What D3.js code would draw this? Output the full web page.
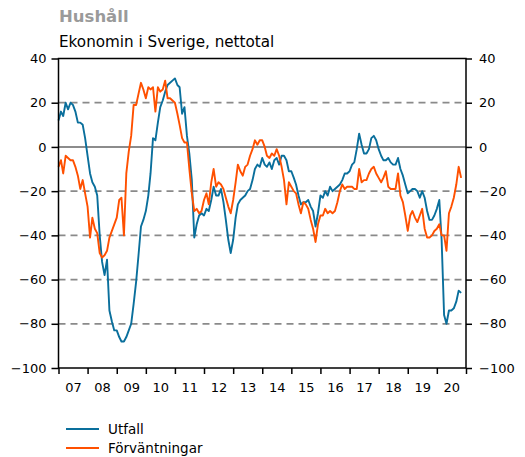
<!DOCTYPE html>
<html>
<head>
<meta charset="utf-8">
<script src="https://cdn.jsdelivr.net/npm/d3@7"></script>
<style>
    body { margin: 0; background: #fff; }
    text { font-family: "DejaVu Sans", Verdana, sans-serif; }
    .axis path { display: none; }
    .axis line { stroke: #000; stroke-width: 1.5; }
    .axis text { font-size: 13px; fill: #000; }
</style>
</head>
<body>
<div id="chart"></div>
<script>
    // monthly values, first value = Jan 2007
    let startYear = 2007

    let utfall = [
        12, 16, 14, 20, 17, 20, 19, 16, 11, 11, 10, 4,
        -4, -12, -16, -18, -22, -40, -52, -58, -51, -74, -79, -83,
        -83, -86, -88, -88, -86, -83, -80, -71, -61, -49, -36, -33,
        -29, -22, -12, 4, 3, 11, 18, 21, 25, 28, 29, 30,
        31, 28, 27, 15, 18, 5, -3, -15, -41, -35, -31, -30,
        -31, -28, -29, -24, -18, -22, -22, -19, -25, -33, -42, -48,
        -42, -32, -26, -24, -23, -22, -20, -19, -15, -10, -8, -9,
        -5, -8, -9, -7, -10, -6, -5, -8, -4, -4, -6, -11,
        -11, -14, -17, -22, -26, -25, -25, -24, -27, -29, -36, -30,
        -22, -23, -20, -22, -18, -20, -19, -18, -17, -15, -12, -12,
        -11, -8, -7, -1, 6, 1, -3, -3, -1, 4, 5, 3,
        -1, -4, -6, -6, -5, -7, -8, -8, -5, -10, -13, -17,
        -21, -20, -19, -19, -20, -23, -20, -23, -29, -33, -33, -31,
        -28, -24, -42, -76, -80, -74, -74, -73, -70, -65, -66
    ]

    let forvantningar = [
        -9, -6, -12, -4, -5, -6, -6, -9, -13, -19, -15, -21,
        -27, -41, -32, -37, -39, -48, -50, -49, -47, -41, -38, -35,
        -32, -24, -23, -40, -12, -2, 5, 19, 19, 24, 29, 26,
        22, 27, 26, 27, 16, 27, 25, 26, 30, 22, 22, 21,
        20, 15, 10, 4, 2, 2, -10, -21, -29, -28, -30, -29,
        -24, -21, -26, -16, -10, -18, -16, -17, -19, -23, -27, -30,
        -24, -16, -8, -11, -13, -9, -8, -4, -1, 3, 1, 3,
        3, 0, -4, -5, -3, -4, -1, -4, -9, -15, -26, -16,
        -18, -20, -21, -26, -30, -25, -26, -28, -33, -37, -43, -35,
        -31, -31, -28, -30, -29, -30, -29, -25, -20, -17, -19, -18,
        -18, -18, -19, -19, -10, -16, -15, -15, -12, -10, -9, -12,
        -14, -16, -14, -11, -18, -19, -19, -19, -12, -22, -25, -31,
        -38, -31, -29, -32, -34, -31, -28, -37, -41, -41, -40, -38,
        -37, -35, -40, -40, -47, -30, -27, -23, -17, -9, -14
    ]

    let yTicks = [-100, -80, -60, -40, -20, 0, 20, 40]
    let gridDashed = [-80, -60, -40, -20, 20]
    let yearLabels = ["07", "08", "09", "10", "11", "12", "13", "14", "15", "16", "17", "18", "19", "20"]

    let series = [
        { name: "Utfall", values: utfall, color: "#0a6f9c" },
        { name: "Förväntningar", values: forvantningar, color: "#ff5000" }
    ]

    let width = 525
    let height = 457
    let plotLeft = 58.5
    let plotRight = 466
    let plotTop = 58.5
    let plotBottom = 368

    let svg = d3.select("#chart")
        .append("svg")
        .attr("width", width)
        .attr("height", height)

    let x = d3.scaleTime()
        .domain([new Date(2007, 0, 1), new Date(2021, 0, 1)])
        .range([plotLeft, plotRight])

    let y = d3.scaleLinear()
        .domain([-100, 40])
        .range([plotBottom, plotTop])

    // titles
    svg.append("text")
        .attr("x", 59)
        .attr("y", 22)
        .style("font-size", "16.5px")
        .style("font-weight", "bold")
        .style("fill", "#9a9a9a")
        .text("Hushåll")

    svg.append("text")
        .attr("x", 59)
        .attr("y", 47)
        .style("font-size", "15.2px")
        .style("fill", "#000")
        .text("Ekonomin i Sverige, nettotal")

    // grid
    svg.append("g")
        .selectAll("line")
        .data(gridDashed)
        .enter()
        .append("line")
        .attr("x1", plotLeft)
        .attr("x2", plotRight)
        .attr("y1", d => y(d))
        .attr("y2", d => y(d))
        .style("stroke", "#8a8a8a")
        .style("stroke-width", 1.8)
        .style("stroke-dasharray", "7,5")

    svg.append("line")
        .attr("x1", plotLeft)
        .attr("x2", plotRight)
        .attr("y1", y(0))
        .attr("y2", y(0))
        .style("stroke", "#8c8c8c")
        .style("stroke-width", 2)

    // lines
    let line = d3.line()
        .x((d, i) => x(new Date(startYear, i, 1)))
        .y(d => y(d))

    svg.append("g")
        .selectAll("path")
        .data(series)
        .enter()
        .append("path")
        .attr("d", d => line(d.values))
        .style("fill", "none")
        .style("stroke", d => d.color)
        .style("stroke-width", 1.9)
        .style("stroke-linejoin", "round")

    // frame
    svg.append("rect")
        .attr("x", plotLeft)
        .attr("y", plotTop)
        .attr("width", plotRight - plotLeft)
        .attr("height", plotBottom - plotTop)
        .style("fill", "none")
        .style("stroke", "#000")
        .style("stroke-width", 1.5)

    // axes
    svg.append("g")
        .attr("class", "axis")
        .attr("transform", "translate(" + plotLeft + ",0)")
        .call(d3.axisLeft(y).tickValues(yTicks).tickSize(7).tickPadding(5))

    svg.append("g")
        .attr("class", "axis")
        .attr("transform", "translate(" + plotRight + ",0)")
        .call(d3.axisRight(y).tickValues(yTicks).tickSize(6).tickPadding(7))

    let yearStarts = d3.range(2007, 2022).map(yr => new Date(yr, 0, 1))
    let yearMids = yearLabels.map((l, i) => new Date(2007 + i, 6, 1))

    svg.append("g")
        .attr("class", "axis")
        .attr("transform", "translate(0," + plotBottom + ")")
        .call(d3.axisBottom(x).tickValues(yearStarts).tickSize(6).tickFormat(""))

    svg.append("g")
        .attr("class", "axis")
        .attr("transform", "translate(0," + plotBottom + ")")
        .call(d3.axisBottom(x).tickValues(yearMids).tickSize(0).tickPadding(15)
            .tickFormat((d, i) => yearLabels[i]))

    // legend
    let legend = svg.append("g")
        .selectAll("g")
        .data(series)
        .enter()
        .append("g")
        .attr("transform", (d, i) => "translate(66," + (429 + i * 19) + ")")

    legend.append("line")
        .attr("x1", 0)
        .attr("x2", 33)
        .style("stroke", d => d.color)
        .style("stroke-width", 2)

    legend.append("text")
        .attr("x", 42)
        .attr("dy", "0.35em")
        .style("font-size", "13.5px")
        .text(d => d.name)
</script>
</body>
</html>
